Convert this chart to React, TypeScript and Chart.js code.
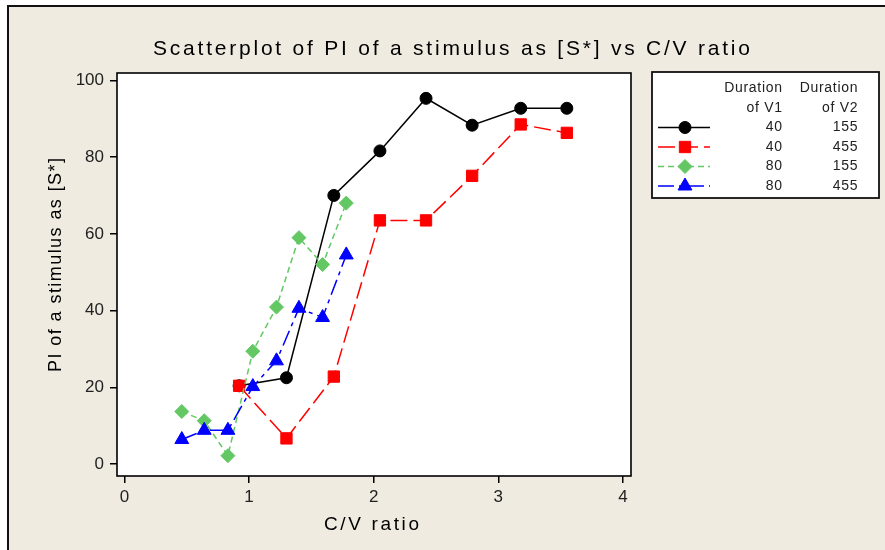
import React, { useEffect, useRef } from 'react';
import { Chart, registerables } from 'chart.js';

Chart.register(...registerables);

// ---- data ----
const cvV1_40_V2_155 = [0.92, 1.3, 1.68, 2.05, 2.42, 2.79, 3.18, 3.55];
const piV1_40_V2_155 = [20.4, 22.5, 70.0, 81.6, 95.3, 88.3, 92.7, 92.7];

const cvV1_40_V2_455 = [0.92, 1.3, 1.68, 2.05, 2.42, 2.79, 3.18, 3.55];
const piV1_40_V2_455 = [20.4, 6.7, 22.8, 63.5, 63.5, 75.1, 88.5, 86.3];

const cvV1_80_V2_155 = [0.46, 0.64, 0.83, 1.03, 1.22, 1.4, 1.59, 1.78];
const piV1_80_V2_155 = [13.7, 11.3, 2.2, 29.4, 40.9, 59.0, 52.0, 68.0];

const cvV1_80_V2_455 = [0.46, 0.64, 0.83, 1.03, 1.22, 1.4, 1.59, 1.78];
const piV1_80_V2_455 = [6.4, 8.8, 8.8, 20.2, 26.9, 40.6, 38.2, 54.5];

const durationV1 = ['40', '40', '80', '80'];
const durationV2 = ['155', '455', '155', '455'];
const legendHeadV1 = ['Duration', 'of V1'];
const legendHeadV2 = ['Duration', 'of V2'];

const xTickValues = [0, 1, 2, 3, 4];
const yTickValues = [0, 20, 40, 60, 80, 100];

const chartTitle = 'Scatterplot of PI of a stimulus as [S*] vs C/V ratio';
const xAxisTitle = 'C/V ratio';
const yAxisTitle = 'PI of a stimulus as [S*]';

// ---- styles ----
const FONT = '"Liberation Sans", Arial, sans-serif';
const BEIGE = 'rgb(239,235,224)';

const seriesStyles = [
  { color: '#000000', pointStyle: 'circle', radius: 6, dash: [] as number[], order: 4 },
  { color: '#FF0000', pointStyle: 'rect', radius: 8, dash: [17, 6], order: 3 },
  { color: '#63C863', pointStyle: 'rectRot', radius: 7, dash: [6, 4], order: 2 },
  { color: '#0000FF', pointStyle: 'triangle', radius: 8, dash: [16, 5, 4, 5], order: 1 },
];

const seriesData = [
  [cvV1_40_V2_155, piV1_40_V2_155],
  [cvV1_40_V2_455, piV1_40_V2_455],
  [cvV1_80_V2_155, piV1_80_V2_155],
  [cvV1_80_V2_455, piV1_80_V2_455],
];

function fitText(
  ctx: CanvasRenderingContext2D,
  text: string,
  x: number,
  y: number,
  width: number,
  font: string,
  align: 'left' | 'center' | 'right'
) {
  ctx.save();
  ctx.font = font;
  (ctx as any).letterSpacing = '0px';
  const nat = ctx.measureText(text).width;
  const n = text.length;
  const ls = n > 1 ? (width - nat) / (n - 1) : 0;
  (ctx as any).letterSpacing = ls + 'px';
  ctx.textAlign = 'left';
  const x0 = align === 'left' ? x : align === 'right' ? x - width : x - width / 2;
  ctx.fillText(text, x0, y);
  ctx.restore();
}

function spacedRight(
  ctx: CanvasRenderingContext2D,
  text: string,
  xRight: number,
  y: number,
  font: string,
  ls: number
) {
  ctx.save();
  ctx.font = font;
  (ctx as any).letterSpacing = '0px';
  const nat = ctx.measureText(text).width;
  const w = nat + (text.length - 1) * ls;
  (ctx as any).letterSpacing = ls + 'px';
  ctx.textAlign = 'left';
  ctx.fillText(text, xRight - w, y);
  ctx.restore();
}

function drawMarker(
  ctx: CanvasRenderingContext2D,
  style: string,
  x: number,
  y: number,
  r: number,
  color: string
) {
  ctx.save();
  ctx.setLineDash([]);
  ctx.fillStyle = color;
  ctx.strokeStyle = color;
  ctx.lineWidth = 1;
  ctx.beginPath();
  if (style === 'circle') {
    ctx.arc(x, y, r, 0, Math.PI * 2);
  } else if (style === 'rect') {
    const s = r * Math.SQRT1_2;
    ctx.rect(x - s, y - s, 2 * s, 2 * s);
  } else if (style === 'rectRot') {
    ctx.moveTo(x - r, y);
    ctx.lineTo(x, y - r);
    ctx.lineTo(x + r, y);
    ctx.lineTo(x, y + r);
    ctx.closePath();
  } else {
    const a = (2 * Math.PI) / 3;
    ctx.moveTo(x, y - r);
    ctx.lineTo(x + Math.sin(a) * r, y - Math.cos(a) * r);
    ctx.lineTo(x + Math.sin(2 * a) * r, y - Math.cos(2 * a) * r);
    ctx.closePath();
  }
  ctx.fill();
  ctx.stroke();
  ctx.restore();
}

const decorPlugin = {
  id: 'decor',
  beforeDraw(chart: any) {
    const ctx: CanvasRenderingContext2D = chart.ctx;
    const { width, height } = chart;
    const a = chart.chartArea;
    ctx.save();
    ctx.fillStyle = '#ffffff';
    ctx.fillRect(0, 0, width, height);
    ctx.fillStyle = BEIGE;
    ctx.fillRect(8, 6, width - 8, height - 6);
    ctx.strokeStyle = '#111';
    ctx.lineWidth = 2;
    ctx.beginPath();
    ctx.moveTo(8, height);
    ctx.lineTo(8, 6);
    ctx.lineTo(width, 6);
    ctx.stroke();
    ctx.fillStyle = '#ffffff';
    ctx.fillRect(a.left, a.top, a.right - a.left, a.bottom - a.top);
    ctx.restore();
  },
  afterDraw(chart: any) {
    const ctx: CanvasRenderingContext2D = chart.ctx;
    const a = chart.chartArea;
    ctx.save();
    // plot frame
    ctx.strokeStyle = '#000';
    ctx.lineWidth = 1.6;
    ctx.strokeRect(a.left, a.top, a.right - a.left, a.bottom - a.top);

    // titles
    ctx.fillStyle = '#000';
    ctx.textBaseline = 'alphabetic';
    fitText(ctx, chartTitle, 153, 55, 597, `21px ${FONT}`, 'left');
    fitText(ctx, xAxisTitle, 371.5, 530, 95, `19px ${FONT}`, 'center');
    ctx.save();
    ctx.translate(61, 265);
    ctx.rotate(-Math.PI / 2);
    fitText(ctx, yAxisTitle, 0, 0, 214, `18px ${FONT}`, 'center');
    ctx.restore();

    // legend box
    const L = 652, T = 72, R = 879, B = 198;
    ctx.fillStyle = '#ffffff';
    ctx.fillRect(L, T, R - L, B - T);
    ctx.strokeStyle = '#111';
    ctx.lineWidth = 1.8;
    ctx.strokeRect(L, T, R - L, B - T);

    const col1 = 782, col2 = 857.5;
    const lf = `14px ${FONT}`;
    ctx.fillStyle = '#222';
    ctx.textBaseline = 'middle';
    const headRows = [88.5, 108.5];
    legendHeadV1.forEach((t, i) => spacedRight(ctx, t, col1, headRows[i], lf, 0.7));
    legendHeadV2.forEach((t, i) => spacedRight(ctx, t, col2, headRows[i], lf, 0.7));
    const rows = [127.5, 147, 166.5, 186];
    seriesStyles.forEach((s, i) => {
      const y = rows[i];
      ctx.save();
      ctx.strokeStyle = s.color;
      ctx.lineWidth = 1.5;
      ctx.setLineDash(s.dash);
      ctx.beginPath();
      ctx.moveTo(658, y);
      ctx.lineTo(710, y);
      ctx.stroke();
      ctx.restore();
      drawMarker(ctx, s.pointStyle, 685, y, s.radius, s.color);
      ctx.fillStyle = '#222';
      ctx.textBaseline = 'middle';
      spacedRight(ctx, durationV1[i], col1, y, lf, 0.7);
      spacedRight(ctx, durationV2[i], col2, y, lf, 0.7);
    });
    ctx.restore();
  },
};

export default function App() {
  const ref = useRef<HTMLCanvasElement | null>(null);

  useEffect(() => {
    document.body.style.margin = '0';
    const canvas = ref.current;
    if (!canvas) return;
    const datasets = seriesStyles.map((s, i) => ({
      label: `${durationV1[i]} / ${durationV2[i]}`,
      data: seriesData[i][0].map((x, j) => ({ x, y: seriesData[i][1][j] })),
      borderColor: s.color,
      backgroundColor: s.color,
      borderWidth: 1.5,
      borderDash: s.dash,
      pointStyle: s.pointStyle,
      pointRadius: s.radius,
      pointBorderWidth: 1,
      pointBackgroundColor: s.color,
      pointBorderColor: s.color,
      showLine: true,
      tension: 0,
      order: s.order,
      clip: false as any,
    }));

    const chart = new Chart(canvas, {
      type: 'scatter',
      data: { datasets },
      options: {
        animation: false,
        responsive: false,
        layout: { padding: { left: 0, top: 73, right: 254, bottom: 44 } },
        plugins: {
          legend: { display: false },
          title: { display: false },
          tooltip: { enabled: false },
        },
        scales: {
          x: {
            type: 'linear',
            min: -0.06,
            max: 4.065,
            afterBuildTicks: (s: any) => {
              s.ticks = xTickValues.map((v) => ({ value: v }));
            },
            afterFit: (s: any) => {
              s.height = 30;
            },
            grid: {
              drawOnChartArea: false,
              drawTicks: true,
              tickLength: 7,
              color: '#000',
              lineWidth: 1.5,
            },
            border: { display: false },
            ticks: {
              font: { family: FONT, size: 17 },
              color: '#222',
              padding: 4,
              maxRotation: 0,
              autoSkip: false,
              callback: (v: any) => String(v),
            },
          },
          y: {
            type: 'linear',
            min: -3.1,
            max: 101.9,
            afterBuildTicks: (s: any) => {
              s.ticks = yTickValues.map((v) => ({ value: v }));
            },
            afterFit: (s: any) => {
              s.width = 117;
            },
            grid: {
              drawOnChartArea: false,
              drawTicks: true,
              tickLength: 7,
              color: '#000',
              lineWidth: 1.5,
            },
            border: { display: false },
            ticks: {
              font: { family: FONT, size: 17 },
              color: '#222',
              padding: 6,
              autoSkip: false,
              callback: (v: any) => String(v),
            },
          },
        },
      } as any,
      plugins: [decorPlugin],
    });
    return () => chart.destroy();
  }, []);

  return (
    <div style={{ position: 'absolute', left: 0, top: 0, width: 885, height: 550 }}>
      <canvas ref={ref} width={885} height={550} style={{ display: 'block' }} />
    </div>
  );
}
